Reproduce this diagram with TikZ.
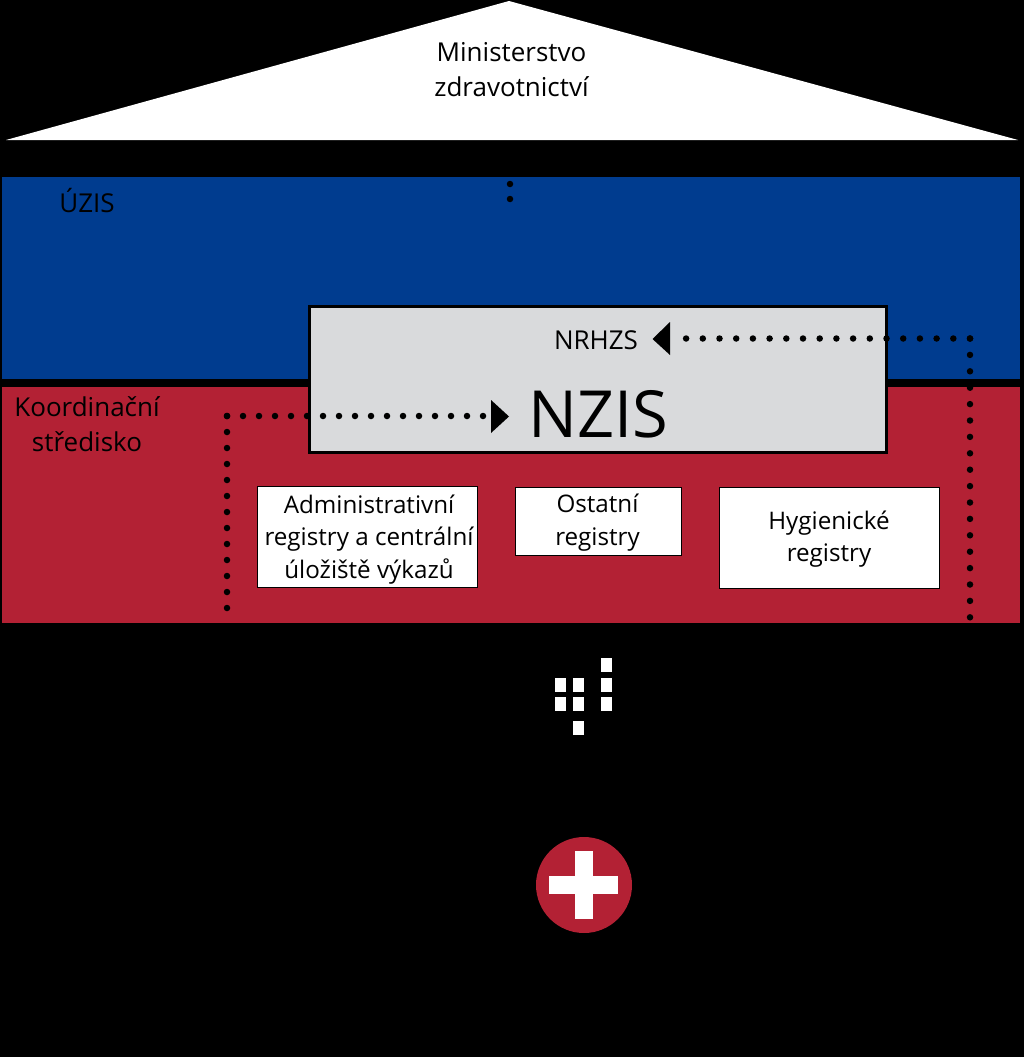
\documentclass[tikz,border=0pt]{standalone}
\usepackage{fontspec}
\setmainfont{Open Sans}
\definecolor{uzisblue}{RGB}{0,60,143}
\definecolor{kored}{RGB}{179,33,52}
\definecolor{nzisgray}{RGB}{217,218,220}
\newcommand{\fs}[2]{\fontsize{#1}{#2}\selectfont}
\tikzset{
  x=1pt,y=-1pt,
  regbox/.style={fill=white,draw=black,line width=0.6pt,inner sep=0,outer sep=0},
  dotline/.style={line width=6.5pt,line cap=round,dash pattern=on 0pt off #1},
  dotline/.default=16pt,
  label/.style={inner sep=0,outer sep=0,align=center,text=black,font=\fs{26}{35}},
  reglabel/.style={inner sep=0,outer sep=0,align=center,text=black,font=\fs{24.2}{32.5}},
  whitesq/.style={fill=white,draw=none,inner sep=0,outer sep=0,minimum width=11pt,minimum height=14pt},
  arrowhead/.style={fill=black,draw=none}
}
\begin{document}
\begin{tikzpicture}
\useasboundingbox (0,0) rectangle (1024,1057);
\fill[black] (0,0) rectangle (1024,1057);
% roof
\fill[white] (6,140) -- (509,1) -- (1018,140) -- cycle;
\node[label] (mz) at (511.5,70) {Ministerstvo\\zdravotnictví};
% bands
\fill[uzisblue] (2,177) rectangle (1020,379);
\fill[kored] (2,387) rectangle (1020,623);
\node[label] (uzis) at (87,201) {ÚZIS};
\node[label] (ks) at (87,424.5) {Koordinační\\středisko};
% nzis box
\node[fill=nzisgray,draw=black,line width=3pt,inner sep=0,outer sep=0,minimum width=577pt,minimum height=146pt] (nzis) at (598,379) {};
\node[label] (nrhzs) at (596,340) {NRHZS};
\node[label,font=\fs{65}{70}] (nzt) at (598,414.5) {NZIS};
% registers
\node[regbox,minimum width=220pt,minimum height=101pt] (adm) at (367.5,536.5) {};
\node[reglabel] (admt) at (369,539.5) {Administrativní\\registry a centrální\\úložiště výkazů};
\node[regbox,minimum width=166pt,minimum height=68pt] (ost) at (598,521) {};
\node[reglabel] (ostt) at (597.5,522.5) {Ostatní\\registry};
\node[regbox,minimum width=220pt,minimum height=101pt] (hyg) at (829,537.5) {};
\node[reglabel] (hygt) at (829,539) {Hygienické\\registry};
% dotted connectors
\coordinate (a0) at (227,611);
\coordinate (a1) at (227,416);
\coordinate (a2) at (485,416);
\coordinate (b0) at (970,620);
\coordinate (b1) at (970,338.5);
\coordinate (b2) at (680,338.5);
\coordinate (t0) at (510,184);
\coordinate (t1) at (510,202);
\draw[dotline] (a1) -- (a0);
\draw[dotline] (a1) -- (a2);
\draw[dotline=16.4pt] (b1) -- (b0);
\draw[dotline=16.7pt] (b1) -- (b2);
\draw[dotline=15pt] (t0) -- (t1);
\fill[arrowhead] (491,400) -- (509,416.5) -- (491,433) -- cycle;
\fill[arrowhead] (670,322) -- (652.5,339) -- (670,355) -- cycle;
% pictogram squares
\foreach \n/\cx/\cy in {s1/560.5/685,s2/578.5/685,s3/560.5/704,s4/578.5/704,s5/606.5/665,s6/606.5/685,s7/606.5/704,s8/578.5/728}
  \node[whitesq] (\n) at (\cx,\cy) {};
% cross
\node[circle,fill=kored,draw=none,minimum size=96pt,inner sep=0,outer sep=0] (med) at (584,885) {};
\fill[white] (575,851) rectangle (593,919);
\fill[white] (549,876) rectangle (618,894);
\end{tikzpicture}
\end{document}
